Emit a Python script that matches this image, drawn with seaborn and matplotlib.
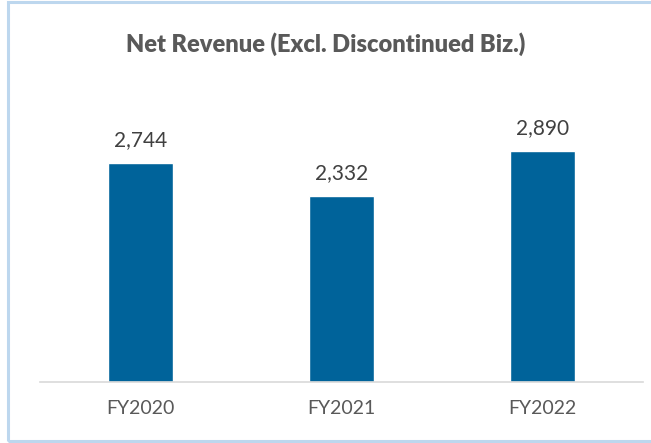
import numpy as np
import pandas as pd
import matplotlib
matplotlib.use("Agg")
import matplotlib.pyplot as plt
import seaborn as sns
from matplotlib.patches import Rectangle

# data
years = ["FY2020", "FY2021", "FY2022"]
revenue = [2744, 2332, 2890]
title = "Net Revenue (Excl. Discontinued Biz.)"

df = pd.DataFrame({"year": years, "revenue": revenue})

sns.set_style("white")
plt.rcParams["font.family"] = ["Lato", "DejaVu Sans"]

fig = plt.figure(figsize=(6.51, 4.43), dpi=100)
ax = fig.add_axes([40 / 651, 61 / 443, 603 / 651, 280 / 443])

sns.barplot(data=df, x="year", y="revenue", color="#00639A", width=0.32,
            saturation=1, ax=ax)
ax.set_ylim(0, 3508)
ax.set_xlim(-0.5, 2.5)

for i, v in enumerate(revenue):
    ax.text(i, v + 160, f"{v:,}", ha="center", va="bottom",
            fontsize=15, color="#404040")

ax.set_xlabel("")
ax.set_ylabel("")
ax.set_yticks([])
ax.tick_params(axis="x", length=0, pad=13, labelsize=14, labelcolor="#595959")
for s in ["top", "left", "right"]:
    ax.spines[s].set_visible(False)
ax.spines["bottom"].set_color("#D9D9D9")
ax.spines["bottom"].set_linewidth(1.2)

fig.text(0.5, 1 - 44 / 443, title, ha="center", va="center",
         fontsize=17, fontweight="heavy", color="#595959")

# chart frame
fig.patches.append(Rectangle((8 / 651, 2 / 443), 1.0, 439 / 443,
                             transform=fig.transFigure, fill=False,
                             edgecolor="#BDD7EE", linewidth=2.2))

fig.savefig("out.png", dpi=100)
